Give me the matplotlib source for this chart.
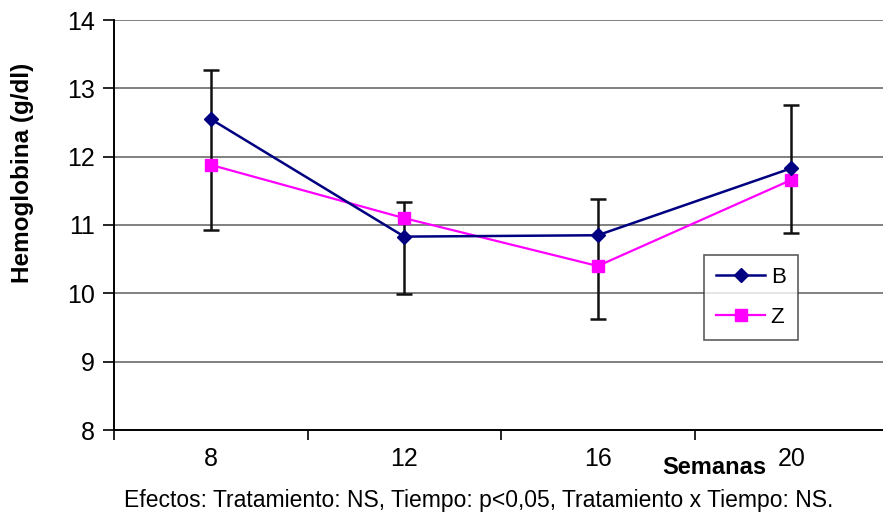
import matplotlib
matplotlib.use("Agg")
import matplotlib.pyplot as plt
import numpy as np

weeks = ["8", "12", "16", "20"]
serie_b = [12.55, 10.83, 10.85, 11.83]
serie_z = [11.88, 11.10, 10.40, 11.66]
err_low = [10.93, 9.99, 9.62, 10.89]
err_high = [13.27, 11.33, 11.38, 12.75]

plt.rcParams['font.family'] = ['Liberation Sans', 'DejaVu Sans']

fig = plt.figure(figsize=(8.83, 5.19), dpi=100)
ax = fig.add_axes([114/883, (519-430)/519, (888-114)/883, (430-20)/519])

x = np.arange(len(weeks))

ax.set_ylim(8, 14)
ax.set_xlim(-0.5, len(weeks) - 0.5)
ax.set_yticks(range(8, 15))
for yv in range(9, 15):
    ax.axhline(yv, color='#808080', lw=1.4, zorder=1)

yb = np.array(serie_b)
ax.errorbar(x, yb, yerr=[yb - np.array(err_low), np.array(err_high) - yb],
            fmt='none', ecolor='#111111', elinewidth=1.8, capsize=6, capthick=1.8, zorder=2)

ax.plot(x, serie_b, color='#000080', lw=1.8, marker='D', markersize=7,
        markerfacecolor='#000080', markeredgecolor='#000080', label='B', zorder=4)
ax.plot(x, serie_z, color='#FF00FF', lw=1.6, marker='s', markersize=9,
        markerfacecolor='#FF00FF', markeredgecolor='#FF00FF', label='Z', zorder=3)

# category ticks between categories
ax.set_xticks(np.arange(-0.5, len(weeks) - 0.5, 1.0))
ax.set_xticklabels([])
ax.set_xticks(x, minor=True)
ax.set_xticklabels(weeks, minor=True)
ax.tick_params(axis='x', which='minor', length=0, labelsize=18, pad=12)
ax.tick_params(axis='x', which='major', length=7, width=1.2, direction='out')
ax.tick_params(axis='y', length=8, width=1.2, labelsize=18, pad=6)

for s in ['top', 'right']:
    ax.spines[s].set_visible(False)
ax.spines['left'].set_linewidth(1.4)
ax.spines['bottom'].set_linewidth(1.4)

ax.set_ylabel('Hemoglobina (g/dl)', fontsize=17.5, fontweight='bold')
ax.yaxis.set_label_coords(-(114 - 34) / 774, 1 - (173 - 20) / 410)

fig.text(714/883, 1 - 467/519, 'Semanas', fontsize=17, fontweight='bold',
         ha='center', va='center')
fig.text(479/883, 1 - 500/519,
         'Efectos: Tratamiento: NS, Tiempo: p<0,05, Tratamiento x Tiempo: NS.',
         fontsize=16.5, ha='center', va='center')

leg = ax.legend(loc='upper left', bbox_to_anchor=((704 - 114) / 774, 1 - (255 - 20) / 410),
                frameon=True, fancybox=False, fontsize=16, handlelength=2.2,
                borderpad=0.55, labelspacing=0.85, handletextpad=0.25, borderaxespad=0)
leg.get_frame().set_edgecolor('#333333')
leg.get_frame().set_linewidth(1.2)

fig.savefig('out.png', dpi=100)
